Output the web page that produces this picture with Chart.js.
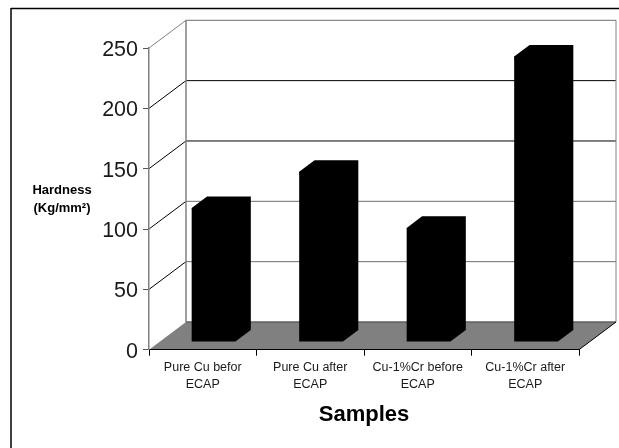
<!DOCTYPE html>
<html>
<head>
<meta charset="utf-8">
<title>Hardness</title>
<script src="https://cdn.jsdelivr.net/npm/chart.js@4"></script>
<style>
  html, body { margin: 0; padding: 0; background: #fff; }
  canvas { display: block; }
</style>
</head>
<body>
<canvas id="myChart" width="619" height="448"></canvas>
<script>
const categories = [
  ["Pure Cu befor", "ECAP"],
  ["Pure Cu after", "ECAP"],
  ["Cu-1%Cr before", "ECAP"],
  ["Cu-1%Cr after", "ECAP"],
]
const hardness = [111, 141, 94.5, 236.5]
const yTitleLines = ["Hardness", "(Kg/mm²)"]
const xTitle = "Samples"

const font = "'Liberation Sans', Arial, sans-serif"
// how far the back wall sits behind the front plane, and the bars in it
const wallDepth = { x: 37, y: -27.7 }
const barFront = { x: 10.8, y: -7.7 }
const barDepth = { x: 15.4, y: -11.6 }

const line = (ctx, x1, y1, x2, y2, color, width) => {
  ctx.strokeStyle = color
  ctx.lineWidth = width
  ctx.beginPath()
  ctx.moveTo(x1, y1)
  ctx.lineTo(x2, y2)
  ctx.stroke()
}

const fake3d = {
  id: "fake3d",
  beforeDraw(chart) {
    const { ctx, chartArea: a, scales } = chart
    const y = scales.y
    const dx = wallDepth.x
    const dy = wallDepth.y

    // frame, only top and left show in the picture
    line(ctx, 11, 8.5, 619, 8.5, "#000", 1.5)
    line(ctx, 11, 8, 11, 448, "#000", 1.5)

    ctx.fillStyle = "#808080"
    ctx.beginPath()
    ctx.moveTo(a.left, a.bottom)
    ctx.lineTo(a.right, a.bottom)
    ctx.lineTo(a.right + dx, a.bottom + dy)
    ctx.lineTo(a.left + dx, a.bottom + dy)
    ctx.closePath()
    ctx.fill()

    y.ticks.forEach((tick) => {
      const py = y.getPixelForValue(tick.value)
      if (tick.value === 0) return
      const dark = tick.value === 200 || tick.value === 150
      const backColor = dark ? "#000" : "#6e6e6e"
      line(ctx, a.left + dx, py + dy, a.right + dx, py + dy, backColor, 1)
      line(ctx, a.left, py, a.left + dx, py + dy, tick.value === 250 ? "#808080" : "#000", 1)
    })

    line(ctx, a.left + dx, a.top + dy, a.left + dx, a.bottom + dy, "#808080", 1.5)
    line(ctx, a.right + dx, a.top + dy, a.right + dx, a.bottom + dy, "#808080", 1)
    line(ctx, a.left + dx, a.bottom + dy, a.right + dx, a.bottom + dy, "#606060", 1.5)
    line(ctx, a.right, a.bottom, a.right + dx, a.bottom + dy, "#000", 1)
  },
  beforeDatasetsDraw(chart) {
    const { ctx } = chart
    ctx.save()
    ctx.translate(barFront.x, barFront.y)
    // top and side of every bar, taken from the bar the library laid out
    chart.getDatasetMeta(0).data.forEach((bar) => {
      const left = bar.x - bar.width / 2
      const right = bar.x + bar.width / 2
      ctx.fillStyle = "#000"
      ctx.beginPath()
      ctx.moveTo(left, bar.y)
      ctx.lineTo(left + barDepth.x, bar.y + barDepth.y)
      ctx.lineTo(right + barDepth.x, bar.y + barDepth.y)
      ctx.lineTo(right + barDepth.x, bar.base + barDepth.y)
      ctx.lineTo(right, bar.base)
      ctx.closePath()
      ctx.fill()
    })
  },
  afterDatasetsDraw(chart) {
    chart.ctx.restore()
  },
  afterDraw(chart) {
    const { ctx } = chart
    ctx.save()
    ctx.fillStyle = "#000"
    ctx.font = "bold 13px " + font
    ctx.textAlign = "center"
    ctx.textBaseline = "middle"
    yTitleLines.forEach((text, i) => {
      ctx.fillText(text, 62, 190 + i * 18)
    })
    ctx.restore()
  },
}

new Chart(document.getElementById("myChart"), {
  type: "bar",
  data: {
    labels: categories,
    datasets: [
      {
        data: hardness,
        backgroundColor: "#000",
        barPercentage: 0.407,
        categoryPercentage: 1,
      },
    ],
  },
  options: {
    responsive: false,
    animation: false,
    layout: { padding: { left: 89, top: 48, right: 40, bottom: 0 } },
    plugins: { legend: { display: false }, tooltip: { enabled: false } },
    scales: {
      x: {
        afterFit: (s) => { s.height = 98.3 },
        border: { color: "#000", width: 1 },
        grid: { drawOnChartArea: false, color: "#000", tickLength: 6 },
        ticks: {
          color: "#1a1a1a",
          padding: 4,
          maxRotation: 0,
          autoSkip: false,
          font: { family: font, size: 12.5, lineHeight: "16.6px" },
        },
        title: {
          display: true,
          text: xTitle,
          color: "#000",
          padding: { top: 0, bottom: 20 },
          font: { family: font, size: 22, weight: "bold" },
        },
      },
      y: {
        min: 0,
        max: 250,
        afterFit: (s) => { s.width = 60 },
        border: { color: "#808080", width: 1.5 },
        grid: { drawOnChartArea: false, color: "#555", tickLength: 6 },
        ticks: {
          stepSize: 50,
          color: "#1a1a1a",
          padding: 5,
          // empty first line pushes the number down half the line height
          callback: (value) => ["", String(value)],
          font: { family: font, size: 21.5, lineHeight: "4px" },
        },
      },
    },
  },
  plugins: [fake3d],
})
</script>
</body>
</html>
